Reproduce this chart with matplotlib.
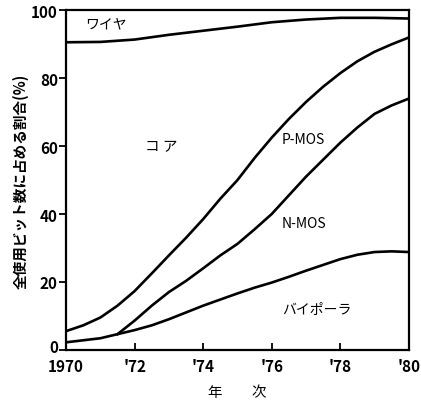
import matplotlib
matplotlib.use("Agg")
import matplotlib.pyplot as plt
import matplotlib.transforms as mtransforms

plt.rcParams['font.family'] = ['Noto Sans CJK JP', 'DejaVu Sans']

# 読み取り値 (年, %)
wire_years = [1970, 1971, 1972, 1973, 1974, 1975, 1976, 1977, 1978, 1979, 1980]
wire_vals = [90.6, 90.7, 91.4, 92.8, 94.0, 95.2, 96.5, 97.3, 97.8, 97.8, 97.6]

pmos_years = [1970, 1970.5, 1971, 1971.5, 1972, 1972.5, 1973, 1973.5, 1974,
              1974.5, 1975, 1975.5, 1976, 1976.5, 1977, 1977.5, 1978,
              1978.5, 1979, 1979.5, 1980]
pmos_vals = [5.5, 7.2, 9.5, 13.0, 17.3, 22.5, 27.8, 33.0, 38.5,
             44.5, 50.0, 56.5, 62.5, 68.0, 73.0, 77.5, 81.5,
             85.0, 87.8, 90.0, 92.0]

nmos_years = [1971.5, 1972, 1972.5, 1973, 1973.5, 1974, 1974.5, 1975,
              1975.5, 1976, 1976.5, 1977, 1977.5, 1978, 1978.5, 1979,
              1979.5, 1980]
nmos_vals = [4.6, 8.6, 13.0, 17.0, 20.3, 24.0, 27.8, 31.2,
             35.5, 40.0, 45.5, 51.0, 56.0, 61.0, 65.5, 69.5,
             72.0, 74.0]

bip_years = [1970, 1970.5, 1971, 1971.5, 1972, 1972.5, 1973, 1973.5, 1974,
             1974.5, 1975, 1975.5, 1976, 1976.5, 1977, 1977.5, 1978,
             1978.5, 1979, 1979.5, 1980]
bip_vals = [2.2, 2.8, 3.4, 4.6, 5.8, 7.2, 9.0, 11.0, 13.0,
            14.8, 16.6, 18.3, 19.8, 21.5, 23.3, 25.0, 26.7,
            28.0, 28.8, 29.0, 28.8]

x_ticks = [1970, 1972, 1974, 1976, 1978, 1980]
x_labels = ["1970", "'72", "'74", "'76", "'78", "'80"]
y_ticks = [0, 20, 40, 60, 80, 100]


def main():
    fig = plt.figure(figsize=(4.21, 4.06), dpi=100)
    ax = fig.add_axes([0.157, 0.136, 0.814, 0.836])

    lw = 1.9
    for xs, ys in [(wire_years, wire_vals), (pmos_years, pmos_vals),
                   (nmos_years, nmos_vals), (bip_years, bip_vals)]:
        ax.plot(xs, ys, color="black", lw=lw, solid_joinstyle="round")

    ax.set_xlim(1970, 1980)
    ax.set_ylim(0, 100)

    for s in ax.spines.values():
        s.set_linewidth(1.6)

    ax.set_xticks(x_ticks)
    ax.set_xticklabels(x_labels)
    ax.set_yticks(y_ticks)
    ax.tick_params(axis="x", direction="in", length=5, width=1.3, pad=6,
                   labelsize=11)
    ax.tick_params(axis="y", direction="out", length=5, width=1.3, pad=1,
                   labelsize=11)
    for t in ax.get_xticklabels() + ax.get_yticklabels():
        t.set_fontweight("bold")

    # "0" は少し上にずらす (1970 と重ならないように)
    zero = ax.get_yticklabels()[0]
    shift = mtransforms.ScaledTranslation(0, 3 / 72, fig.dpi_scale_trans)
    zero.set_transform(zero.get_transform() + shift)

    ax.text(1970.55, 96.3, "ワイヤ", fontsize=10, va="center")
    ax.text(1972.3, 60, "コ ア", fontsize=10.5, va="center")
    ax.text(1976.3, 62, "P-MOS", fontsize=10, va="center")
    ax.text(1976.3, 37.5, "N-MOS", fontsize=10, va="center")
    ax.text(1976.3, 12, "バイポーラ", fontsize=10, va="center")

    ax.set_ylabel("全使用ビット数に占める割合(%)", fontsize=10.5,
                  fontweight="bold", labelpad=2)
    ax.set_xlabel("年　　次", fontsize=10.5, labelpad=8)

    fig.savefig("out.png", dpi=100)


if __name__ == "__main__":
    main()
